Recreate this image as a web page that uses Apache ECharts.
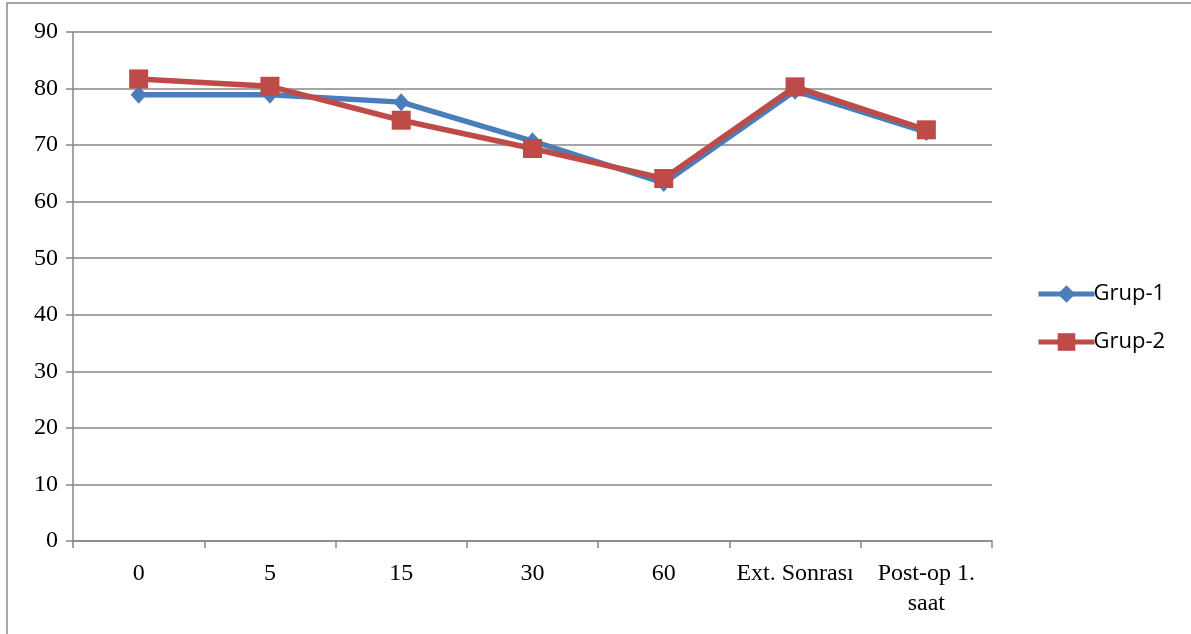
<!DOCTYPE html>
<html>
<head>
<meta charset="utf-8">
<script src="https://cdn.jsdelivr.net/npm/echarts@6/dist/echarts.min.js"></script>
<style>
  html, body { margin: 0; padding: 0; background: #fff; }
  #chart { width: 1191px; height: 634px; }
</style>
</head>
<body>
<div id="chart"></div>
<script>
// Measurement points (minutes and phases)
const categories = ['0', '5', '15', '30', '60', 'Ext. Sonrası', 'Post-op 1.\nsaat'];
const grup1 = [78.9, 78.9, 77.6, 70.7, 63.3, 79.6, 72.3];
const grup2 = [81.7, 80.4, 74.4, 69.4, 64.1, 80.3, 72.7];
const yTicks = { min: 0, max: 90, interval: 10 };

const axisGray = '#878787';
const serif = '"Liberation Serif", "Times New Roman", serif';

const chart = echarts.init(document.getElementById('chart'), null, { renderer: 'canvas' });
chart.setOption({
  animation: false,
  backgroundColor: '#ffffff',
  graphic: [{
    type: 'rect',
    shape: { x: 7, y: 3, width: 1300, height: 700 },
    style: { fill: 'none', stroke: '#8a8a8a', lineWidth: 1.5 },
    silent: true
  }],
  grid: { left: 73, right: 199, top: 32, bottom: 93 },
  legend: {
    orient: 'vertical',
    left: 1031,
    top: 278,
    itemWidth: 56,
    itemHeight: 22,
    itemGap: 26,
    lineStyle: { width: 5 },
    textStyle: { fontFamily: '"Open Sans", "Liberation Sans", sans-serif', fontSize: 22, color: '#000', padding: [0, 0, 0, -6] },
    data: ['Grup-1', 'Grup-2']
  },
  xAxis: {
    type: 'category',
    data: categories,
    boundaryGap: true,
    axisLine: { lineStyle: { color: axisGray, width: 1.5 } },
    axisTick: { show: true, length: 7, lineStyle: { color: axisGray, width: 1.5 } },
    axisLabel: { fontFamily: serif, fontSize: 24, color: '#000', margin: 18, lineHeight: 30, interval: 0 },
    splitLine: { show: false }
  },
  yAxis: {
    type: 'value',
    min: yTicks.min,
    max: yTicks.max,
    interval: yTicks.interval,
    axisLine: { show: true, lineStyle: { color: axisGray, width: 1.5 } },
    axisTick: { show: true, length: 7, lineStyle: { color: axisGray, width: 1.5 } },
    axisLabel: { fontFamily: serif, fontSize: 24, color: '#000', margin: 15 },
    splitLine: { show: true, lineStyle: { color: axisGray, width: 1.5 } }
  },
  series: [
    {
      name: 'Grup-1',
      type: 'line',
      data: grup1,
      symbol: 'diamond',
      symbolSize: [16, 18],
      lineStyle: { color: '#4A7EBB', width: 5.5 },
      itemStyle: { color: '#4A7EBB' },
      z: 2
    },
    {
      name: 'Grup-2',
      type: 'line',
      data: grup2,
      symbol: 'rect',
      symbolSize: 19,
      lineStyle: { color: '#BE4B48', width: 5.5 },
      itemStyle: { color: '#BE4B48' },
      z: 3
    }
  ]
});
</script>
</body>
</html>
